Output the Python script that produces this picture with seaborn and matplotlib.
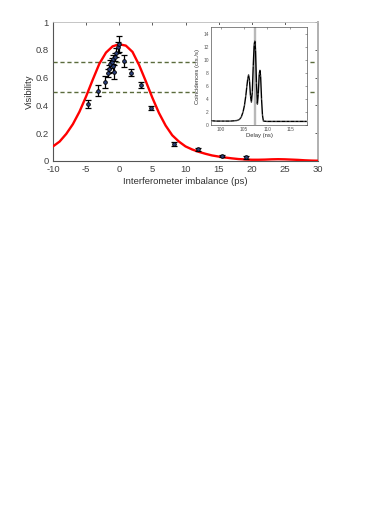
import matplotlib
matplotlib.use("Agg")
import matplotlib.pyplot as plt
import seaborn as sns
import numpy as np
import pandas as pd

# ---- main data: visibility vs interferometer imbalance ----
imbalance_ps = [-4.68, -3.17, -2.11, -1.75, -1.56, -1.36, -1.15, -1.0, -0.9, -0.8,
                -0.6, -0.45, -0.24, -0.1, 0.7, 1.8, 3.27, 4.73, 8.3, 11.96, 15.5, 19.1]
visibility = [0.412, 0.506, 0.568, 0.631, 0.66, 0.696, 0.714, 0.731, 0.683, 0.638,
              0.746, 0.78, 0.818, 0.842, 0.72, 0.635, 0.545, 0.384, 0.122, 0.084, 0.036, 0.026]
vis_err = [0.03, 0.04, 0.04, 0.03, 0.03, 0.03, 0.03, 0.03, 0.04, 0.05,
           0.03, 0.03, 0.04, 0.06, 0.045, 0.025, 0.02, 0.015, 0.012, 0.01, 0.01, 0.01]

# ---- fit curve ----
fit_x = list(range(-10, 31))
fit_v = [0.105, 0.14, 0.195, 0.265, 0.355, 0.465, 0.585, 0.70, 0.78, 0.825,
         0.84, 0.83, 0.785, 0.69, 0.575, 0.455, 0.345, 0.255, 0.185, 0.14,
         0.105, 0.083, 0.066, 0.052, 0.04, 0.032, 0.025, 0.019, 0.014, 0.011,
         0.009, 0.009, 0.01, 0.012, 0.013, 0.012, 0.01, 0.008, 0.005, 0.003, 0.002]

threshold_levels = [0.71, 0.50]

# ---- inset: coincidences vs delay ----
delay_ns = [98, 99, 100, 101, 102, 103, 103.5, 104, 104.4, 104.8, 105.1, 105.4, 105.6,
            105.8, 106.0, 106.2, 106.4, 106.6, 106.8, 107.0, 107.2, 107.35, 107.5,
            107.7, 107.9, 108.1, 108.3, 108.45, 108.6, 108.8, 109.0, 109.2, 110,
            111, 112, 113, 114, 115, 116, 117, 118, 118.6]
coinc = [0.65, 0.6, 0.6, 0.6, 0.6, 0.65, 0.7, 0.85, 1.2, 2.0, 3.0, 4.5, 5.8,
         7.0, 7.7, 6.8, 4.5, 3.5, 5.0, 9.0, 12.3, 12.9, 11.5,
         6.5, 3.2, 4.8, 7.8, 8.4, 7.5, 4.0, 1.5, 0.6, 0.55,
         0.55, 0.55, 0.55, 0.55, 0.55, 0.55, 0.55, 0.55, 0.55]
gate_center = 107.3

sns.set_style("white")
plt.rcParams['font.family'] = ['Liberation Sans', 'DejaVu Sans']

fig = plt.figure(figsize=(3.74, 5.28), dpi=100)
ax = fig.add_axes([53/374, 1 - 161/528, 265/374, 139/528])
ax.set_zorder(0)

for lvl in threshold_levels:
    ax.axhline(lvl, color="#5b6b3c", lw=1.0, ls=(0, (3, 2)), zorder=1)

fit_df = pd.DataFrame({"x": fit_x, "v": fit_v})
sns.lineplot(data=fit_df, x="x", y="v", ax=ax, color="#ff0000", lw=1.7, zorder=3)

ax.errorbar(imbalance_ps, visibility, yerr=vis_err, fmt="none", ecolor="black",
            elinewidth=0.9, capsize=2.2, capthick=0.9, zorder=4)
pts = pd.DataFrame({"x": imbalance_ps, "v": visibility})
sns.scatterplot(data=pts, x="x", y="v", ax=ax, s=7, color="#2b3f7a",
                edgecolor="black", linewidth=0.6, zorder=5)

ax.set_xlim(-10, 30)
ax.set_ylim(0, 1)
ax.set_xticks([-10, -5, 0, 5, 10, 15, 20, 25, 30])
ax.set_xticklabels(["-10", "-5", "0", "5", "10", "15", "20", "25", "30"])
ax.set_yticks([0, 0.2, 0.4, 0.6, 0.8, 1])
ax.set_yticklabels(["0", "0.2", "0.4", "0.6", "0.8", "1"])
ax.tick_params(direction="in", length=2.5, width=0.6, labelsize=6.8,
               colors="#404040", top=True, right=True)
ax.tick_params(axis="x", pad=3)
ax.tick_params(axis="y", pad=3)
ax.set_xlabel("Interferometer imbalance (ps)", fontsize=6.8, color="#303030", labelpad=2)
ax.set_ylabel("Visibility", fontsize=6.8, color="#303030", labelpad=1)
for s in ["left", "bottom"]:
    ax.spines[s].set_color("#555555")
    ax.spines[s].set_linewidth(0.8)
ax.spines["top"].set_color("#bbbbbb")
ax.spines["top"].set_linewidth(0.6)
ax.spines["right"].set_color("#b0b0b0")
ax.spines["right"].set_linewidth(1.4)

# white backing panel behind the inset and its labels
back = fig.add_axes([195/374, (528 - 136)/528, 115/374, 111/528])
back.set_zorder(1)
back.set_facecolor("white")
back.set_xticks([])
back.set_yticks([])
for s in back.spines.values():
    s.set_visible(False)

# ---- inset ----
ins = fig.add_axes([210.7/374, (528 - 125)/528, 96.6/374, 97.7/528])
ins.set_zorder(2)
ins.axvspan(gate_center - 0.17, gate_center + 0.17, color="#b8b8b8", zorder=1)
ins_df = pd.DataFrame({"d": delay_ns, "c": coinc})
sns.lineplot(data=ins_df, x="d", y="c", ax=ins, color="black", lw=1.0,
             marker="|", markersize=1.5, markeredgewidth=0.3, zorder=3)
ins.set_xlim(97.8, 118.7)
ins.set_ylim(0, 15)
ins.set_xticks([100, 105, 110, 115])
ins.set_yticks([0, 2, 4, 6, 8, 10, 12, 14])
ins.tick_params(direction="in", length=1.5, width=0.4, labelsize=3.5,
                colors="#555555", top=True, right=True, pad=1.5)
ins.set_xlabel("Delay (ns)", fontsize=4.2, color="#303030", labelpad=1)
ins.set_ylabel("Coincidences (cts./s)", fontsize=4.2, color="#303030", labelpad=2)
for s in ins.spines.values():
    s.set_color("#555555")
    s.set_linewidth(0.5)

fig.savefig("out.png", dpi=100)
